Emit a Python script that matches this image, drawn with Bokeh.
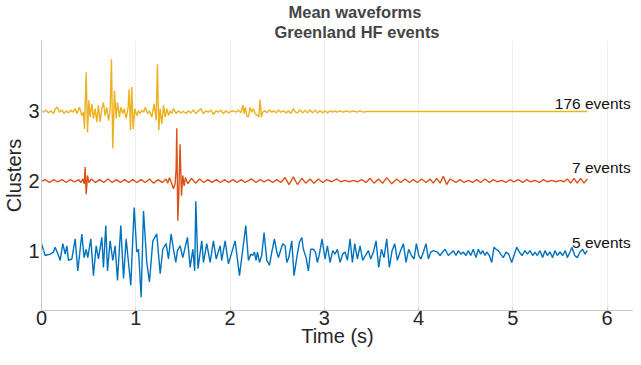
from bokeh.plotting import figure
from bokeh.models import ColumnDataSource, Title, Range1d
from bokeh.embed import file_html
from bokeh.resources import INLINE
from bokeh.core.properties import value

# ---------------- data ----------------
clusters = [1, 2, 3]
event_counts = [5, 7, 176]
x_ticks = [0, 1, 2, 3, 4, 5, 6]

# cluster 1 (blue): time (s) and normalised amplitude
blue_t = [
    0.000, 0.039, 0.092, 0.127, 0.145, 0.180, 0.198, 0.226, 0.251, 0.269,
    0.286, 0.322, 0.357, 0.385, 0.428, 0.452, 0.474, 0.491, 0.523, 0.551,
    0.580, 0.604, 0.640, 0.657, 0.682, 0.700, 0.728, 0.756, 0.781, 0.806,
    0.841, 0.870, 0.898, 0.947, 0.983, 1.011, 1.029, 1.057, 1.082, 1.117,
    1.145, 1.181, 1.223, 1.259, 1.287, 1.322, 1.347, 1.375, 1.400, 1.425,
    1.442, 1.471, 1.499, 1.548, 1.577, 1.605, 1.625, 1.637, 1.660, 1.700,
    1.718, 1.753, 1.789, 1.824, 1.853, 1.895, 1.912, 1.948, 1.983, 2.054,
    2.100, 2.167, 2.195, 2.220, 2.241, 2.259, 2.276, 2.291, 2.312, 2.336,
    2.361, 2.390, 2.418, 2.443, 2.471, 2.496, 2.513, 2.531, 2.559, 2.584,
    2.602, 2.623, 2.655, 2.679, 2.708, 2.736, 2.761, 2.778, 2.807, 2.831,
    2.856, 2.884, 2.906, 2.927, 2.948, 2.976, 3.008, 3.033, 3.061, 3.089,
    3.114, 3.139, 3.167, 3.195, 3.220, 3.245, 3.273, 3.298, 3.323, 3.351,
    3.379, 3.408, 3.436, 3.468, 3.492, 3.521, 3.549, 3.577, 3.606, 3.634,
    3.662, 3.690, 3.719, 3.747, 3.775, 3.804, 3.839, 3.867, 3.895, 3.924,
    3.952, 3.977, 4.002, 4.026, 4.051, 4.079, 4.104, 4.129, 4.157, 4.199,
    4.228, 4.256, 4.281, 4.316, 4.369, 4.397, 4.422, 4.447, 4.475, 4.503,
    4.528, 4.553, 4.581, 4.609, 4.634, 4.659, 4.680, 4.705, 4.723, 4.751,
    4.776, 4.800, 4.822, 4.846, 4.871, 4.899, 4.928, 4.956, 4.988, 5.012,
    5.041, 5.069, 5.097, 5.129, 5.154, 5.182, 5.210, 5.235, 5.260, 5.288,
    5.316, 5.341, 5.366, 5.394, 5.422, 5.447, 5.472, 5.500, 5.529, 5.557,
    5.578, 5.606, 5.627, 5.656, 5.684, 5.712, 5.741, 5.765, 5.790,
]
blue_amp = [
    0.10, -0.07, -0.05, -0.02, 0.05, -0.07, -0.14, 0.10, -0.05, 0.07,
    -0.14, -0.12, 0.17, -0.29, 0.24, -0.10, 0.02, -0.10, 0.17, -0.36,
    0.07, -0.12, 0.19, -0.24, 0.36, -0.29, 0.14, -0.14, 0.07, -0.43,
    0.36, -0.40, 0.17, -0.50, 0.62, -0.02, 0.02, -0.67, 0.57, -0.17,
    -0.45, 0.14, 0.24, -0.33, 0.02, 0.10, -0.12, 0.24, 0.02, -0.17,
    0.00, 0.07, -0.10, 0.19, -0.24, 0.02, -0.29, 0.71, -0.26, 0.14,
    -0.17, 0.10, -0.17, 0.14, -0.12, 0.07, -0.14, 0.14, -0.19, 0.14,
    -0.36, 0.36, -0.14, -0.05, -0.07, -0.02, -0.14, -0.02, -0.17, -0.07,
    0.26, -0.14, -0.21, -0.02, 0.17, -0.02, -0.10, -0.02, 0.10, 0.07,
    -0.17, -0.10, 0.14, -0.36, -0.10, 0.12, 0.19, 0.02, -0.10, -0.29,
    0.02, 0.02, -0.02, -0.17, -0.05, 0.17, -0.12, 0.07, -0.17, 0.00,
    -0.05, 0.02, -0.17, -0.05, -0.02, -0.14, 0.17, -0.17, 0.10, -0.12,
    0.07, -0.14, -0.07, 0.00, -0.12, -0.02, 0.14, -0.24, 0.02, -0.10,
    0.17, -0.24, 0.00, 0.10, -0.14, -0.02, 0.10, -0.17, 0.02, -0.07,
    -0.12, 0.10, -0.07, -0.12, -0.02, 0.10, -0.12, -0.02, 0.00, -0.02,
    -0.07, -0.02, 0.02, -0.07, 0.00, -0.07, 0.00, -0.05, -0.02, -0.07,
    0.00, -0.07, 0.02, -0.10, 0.02, -0.05, 0.00, -0.07, -0.02, -0.07,
    -0.17, 0.05, 0.02, 0.00, -0.05, -0.10, -0.02, -0.05, -0.17, -0.07,
    0.05, -0.02, -0.07, 0.00, -0.05, 0.00, -0.07, -0.02, -0.07, 0.00,
    -0.10, 0.00, -0.07, -0.02, -0.10, 0.00, -0.07, -0.02, -0.07, 0.00,
    -0.10, -0.02, 0.05, -0.07, -0.10, -0.02, 0.02, -0.05, 0.00,
]

# cluster 2 (red)
red_t = [
    0.000, 0.040, 0.085, 0.128, 0.172, 0.218, 0.262, 0.305, 0.350, 0.395,
    0.418, 0.438, 0.453, 0.463, 0.474, 0.488, 0.502, 0.530, 0.572, 0.618,
    0.660, 0.705, 0.750, 0.792, 0.838, 0.880, 0.925, 0.968, 1.012, 1.058,
    1.100, 1.146, 1.190, 1.235, 1.280, 1.322, 1.340, 1.357, 1.382, 1.400,
    1.417, 1.428, 1.435, 1.446, 1.456, 1.470, 1.485, 1.499, 1.513, 1.527,
    1.552, 1.590, 1.635, 1.678, 1.722, 1.765, 1.810, 1.855, 1.898, 1.942,
    1.985, 2.030, 2.075, 2.118, 2.160, 2.230, 2.276, 2.319, 2.361, 2.407,
    2.453, 2.496, 2.538, 2.584, 2.626, 2.672, 2.715, 2.761, 2.803, 2.849,
    2.891, 2.937, 2.983, 3.026, 3.079, 3.132, 3.174, 3.220, 3.266, 3.309,
    3.351, 3.397, 3.443, 3.485, 3.528, 3.574, 3.620, 3.662, 3.715, 3.768,
    3.811, 3.857, 3.903, 3.945, 3.987, 4.033, 4.079, 4.122, 4.157, 4.192,
    4.228, 4.263, 4.298, 4.334, 4.397, 4.440, 4.482, 4.528, 4.574, 4.617,
    4.659, 4.705, 4.751, 4.793, 4.836, 4.882, 4.928, 4.970, 5.012, 5.058,
    5.104, 5.147, 5.189, 5.235, 5.281, 5.324, 5.366, 5.412, 5.458, 5.500,
    5.543, 5.578, 5.613, 5.649, 5.684, 5.719, 5.755, 5.790,
]
red_amp = [
    0.00, 0.02, -0.02, 0.02, -0.01, 0.02, -0.02, 0.02, -0.01, 0.02,
    -0.02, 0.03, -0.04, 0.20, -0.19, 0.08, -0.02, 0.03, -0.02, 0.02,
    -0.02, 0.03, -0.02, 0.02, -0.02, 0.02, -0.02, 0.02, -0.02, 0.02,
    -0.02, 0.03, -0.03, 0.02, -0.02, 0.03, -0.03, 0.05, -0.04, -0.11,
    -0.04, 0.17, 0.76, -0.57, -0.21, 0.53, -0.21, 0.08, -0.07, 0.05,
    -0.04, 0.04, -0.03, 0.03, -0.02, 0.02, -0.02, 0.02, -0.02, 0.02,
    -0.02, 0.02, -0.02, 0.02, -0.02, 0.03, -0.02, 0.02, -0.01, 0.02,
    -0.02, 0.02, -0.02, 0.05, -0.05, 0.06, -0.05, 0.04, -0.03, 0.03,
    -0.03, 0.03, -0.02, 0.02, -0.01, 0.03, -0.01, 0.01, -0.01, 0.01,
    -0.01, 0.02, -0.02, 0.04, -0.03, 0.03, -0.03, 0.05, -0.04, 0.03,
    -0.02, 0.03, -0.02, 0.02, -0.02, 0.03, -0.02, 0.03, -0.03, 0.04,
    -0.03, 0.07, -0.05, 0.03, -0.02, 0.02, -0.02, 0.01, -0.02, 0.02,
    -0.02, 0.03, -0.02, 0.02, -0.01, 0.01, -0.02, 0.02, -0.01, 0.02,
    -0.02, 0.02, -0.01, 0.01, -0.02, 0.02, -0.01, 0.01, -0.01, 0.01,
    -0.01, 0.03, -0.03, 0.04, -0.03, 0.04, -0.03, 0.03,
]

# cluster 3 (yellow)
yellow_t = [
    0.000, 0.021, 0.049, 0.074, 0.099, 0.127, 0.148, 0.170, 0.191, 0.216,
    0.240, 0.261, 0.286, 0.311, 0.332, 0.357, 0.375, 0.403, 0.428, 0.445,
    0.456, 0.474, 0.488, 0.502, 0.516, 0.534, 0.551, 0.569, 0.587, 0.604,
    0.622, 0.640, 0.657, 0.675, 0.693, 0.711, 0.728, 0.742, 0.756, 0.774,
    0.792, 0.806, 0.827, 0.841, 0.862, 0.877, 0.898, 0.919, 0.930, 0.944,
    0.958, 0.972, 0.990, 1.011, 1.029, 1.046, 1.064, 1.082, 1.103, 1.124,
    1.145, 1.170, 1.195, 1.216, 1.230, 1.244, 1.258, 1.276, 1.294, 1.311,
    1.329, 1.347, 1.364, 1.382, 1.400, 1.428, 1.453, 1.478, 1.506, 1.534,
    1.559, 1.584, 1.612, 1.640, 1.665, 1.690, 1.718, 1.746, 1.771, 1.796,
    1.824, 1.852, 1.877, 1.902, 1.930, 1.958, 1.983, 2.008, 2.036, 2.064,
    2.089, 2.114, 2.135, 2.149, 2.163, 2.177, 2.195, 2.213, 2.230, 2.248,
    2.266, 2.291, 2.305, 2.319, 2.333, 2.347, 2.372, 2.390, 2.418, 2.443,
    2.467, 2.489, 2.513, 2.538, 2.566, 2.595, 2.619, 2.644, 2.672, 2.694,
    2.715, 2.743, 2.771, 2.796, 2.821, 2.849, 2.877, 2.902, 2.927, 2.955,
    2.983, 3.008, 3.033, 3.061, 3.089, 3.114, 3.139, 3.167, 3.203, 3.238,
    3.273, 3.309, 3.344, 3.379, 3.415, 3.450, 5.790,
]
yellow_amp = [
    0.01, -0.01, 0.02, -0.02, 0.01, -0.03, 0.04, 0.06, -0.01, 0.02,
    -0.03, 0.01, -0.02, 0.02, -0.01, 0.04, -0.03, 0.06, -0.06, -0.01,
    -0.25, 0.56, -0.30, 0.16, -0.08, 0.11, -0.10, 0.04, -0.15, 0.09,
    -0.15, 0.04, 0.13, -0.06, 0.06, -0.13, 0.01, 0.75, -0.53, 0.30,
    -0.10, 0.13, -0.08, 0.06, -0.03, 0.04, -0.10, 0.06, 0.32, -0.27,
    0.35, -0.25, 0.04, -0.06, 0.01, -0.03, 0.02, -0.01, 0.06, -0.03,
    0.01, -0.08, 0.11, -0.13, 0.68, -0.27, 0.04, -0.18, 0.09, -0.08,
    0.04, -0.06, 0.01, -0.03, 0.04, -0.03, 0.01, -0.02, 0.00, -0.03,
    0.01, -0.02, 0.02, -0.03, 0.01, 0.04, -0.03, 0.01, -0.01, 0.02,
    -0.04, 0.01, -0.01, 0.02, -0.03, 0.01, -0.02, 0.00, 0.01, -0.01,
    0.02, -0.02, 0.09, -0.03, 0.06, -0.06, -0.08, 0.06, -0.01, 0.04,
    -0.03, -0.06, -0.08, 0.17, -0.08, -0.01, 0.01, -0.02, 0.02, -0.01,
    0.01, -0.02, 0.02, -0.01, 0.01, -0.02, 0.01, -0.03, 0.04, -0.01,
    -0.02, 0.02, -0.02, 0.02, -0.02, 0.02, -0.02, 0.02, -0.02, 0.01,
    -0.02, 0.01, -0.02, 0.01, -0.01, 0.01, -0.01, 0.01, -0.01, 0.01,
    -0.01, 0.01, -0.01, 0.01, -0.01, 0.00, 0.00,
]

series_t = [blue_t, red_t, yellow_t]
series_amp = [blue_amp, red_amp, yellow_amp]

# ---------------- style / layout ----------------
colors = ["#0072BD", "#D95319", "#EDB120"]
label_dx = 0.46
label_dy = [0.12, 0.20, 0.12]
FONT = "Liberation Sans"

p = figure(width=633, height=349, output_backend="svg", toolbar_location=None,
           x_range=Range1d(0, 6.28), y_range=Range1d(0.14, 4.02),
           min_border_left=0, min_border_right=0, min_border_top=0,
           min_border_bottom=0, title="Mean waveforms")
p.title.text_font = FONT
p.title.text_font_size = "16.5px"
p.title.text_font_style = "bold"
p.title.align = "left"
p.title.offset = 247
p.title.standoff = 0
p.add_layout(Title(text="Greenland HF events", text_font=FONT, text_font_size="16.5px",
                   text_font_style="bold", align="left", offset=233, standoff=0), "above")

for c, t, a, col in zip(clusters, series_t, series_amp, colors):
    src = ColumnDataSource(dict(x=t, y=[c + v for v in a]))
    p.line("x", "y", source=src, line_color=col, line_width=1.4)

lab = ColumnDataSource(dict(
    x=[series_t[i][-1] + label_dx for i in range(3)],
    y=[clusters[i] + label_dy[i] for i in range(3)],
    text=["%d events" % n for n in event_counts]))
p.text("x", "y", text="text", source=lab, text_align="right",
       text_baseline="alphabetic", text_font=value(FONT),
       text_font_size="15.5px", text_color="#111111")

p.xaxis.ticker = x_ticks
p.yaxis.ticker = clusters
p.xaxis.axis_label = "Time (s)"
p.yaxis.axis_label = "Clusters"
for ax in (p.xaxis, p.yaxis):
    ax.axis_label_text_font = FONT
    ax.axis_label_text_font_size = "20px"
    ax.axis_label_text_font_style = "normal"
    ax.axis_label_text_color = "#262626"
    ax.major_label_text_font = FONT
    ax.major_label_text_font_size = "20px"
    ax.major_label_text_color = "#262626"
    ax.axis_line_color = "#c8c8c8"
    ax.major_tick_line_color = "#c8c8c8"
    ax.major_tick_out = 0
    ax.major_tick_in = 3
    ax.minor_tick_line_color = None
p.xaxis.major_label_standoff = 0
p.xaxis.axis_label_standoff = -3
p.yaxis.major_label_standoff = 2
p.yaxis.axis_label_standoff = 0

p.outline_line_color = None
p.ygrid.grid_line_color = None
p.xgrid.grid_line_color = "#eeeeee"

open("out.html", "w").write(file_html(p, INLINE))
